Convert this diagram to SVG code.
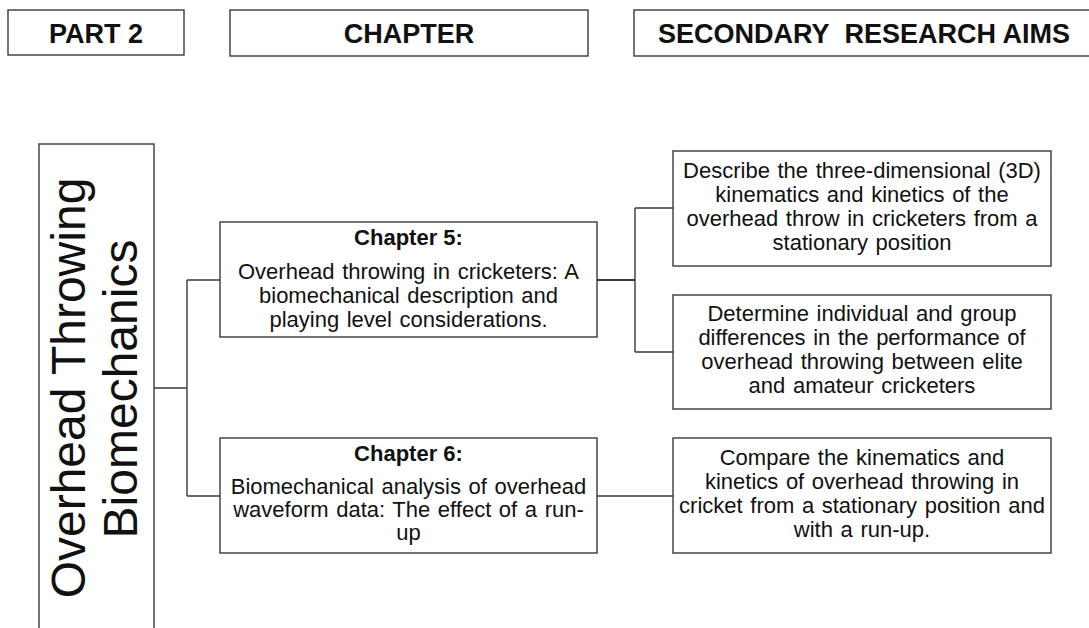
<svg xmlns="http://www.w3.org/2000/svg" width="1089" height="628" viewBox="0 0 1089 628">
  <style>
    .box { fill: #ffffff; stroke: #3a3a3a; stroke-width: 1.4; }
    .wire { fill: none; stroke: #3a3a3a; stroke-width: 1.4; }
    .wire.thick { stroke-width: 2.2; }
    .head { font-family: "Liberation Sans", Arial, sans-serif; font-weight: bold; font-size: 27px; fill: #111111; text-anchor: middle; }
    .title { font-family: "Liberation Sans", Arial, sans-serif; font-weight: bold; font-size: 22px; fill: #111111; text-anchor: middle; }
    .body { font-family: "Liberation Sans", Arial, sans-serif; font-size: 22px; word-spacing: 1.5px; fill: #111111; text-anchor: middle; }
    .side { font-family: "Liberation Sans", Arial, sans-serif; font-size: 48px; fill: #111111; text-anchor: middle; }
  </style>
  <rect x="0" y="0" width="1089" height="628" fill="#ffffff"/>

  <!-- column headings -->
  <g id="head-part">
    <rect class="box" x="8" y="10" width="176" height="45"/>
    <text class="head" x="96" y="43">PART 2</text>
  </g>
  <g id="head-chapter">
    <rect class="box" x="230" y="10" width="358" height="46"/>
    <text class="head" x="409" y="43">CHAPTER</text>
  </g>
  <g id="head-aims">
    <rect class="box" x="634" y="10" width="460" height="46"/>
    <text class="head" x="864" y="43">SECONDARY <tspan dx="8">RESEARCH AIMS</tspan></text>
  </g>

  <!-- connectors -->
  <g id="connectors">
    <path class="wire" d="M154 388 H187 M187 280 V496 M187 280 H220 M187 496 H220"/>
    <path class="wire thick" d="M597 280 H635"/>
    <path class="wire" d="M635 208 V352 M635 208 H673 M635 352 H673"/>
    <path class="wire" d="M597 496 H673"/>
  </g>

  <!-- part 2 theme -->
  <g id="part-theme">
    <rect class="box" x="39" y="144" width="115" height="500"/>
    <text class="side" transform="translate(85,388) rotate(-90)">Overhead Throwing</text>
    <text class="side" transform="translate(137,389) rotate(-90)">Biomechanics</text>
  </g>

  <!-- chapters -->
  <g id="chapter-5">
    <rect class="box" x="220" y="222" width="377" height="115"/>
    <text class="title" x="408.5" y="245">Chapter 5:</text>
    <text class="body" x="408.5" y="279">Overhead throwing in cricketers: A</text>
    <text class="body" x="408.5" y="303">biomechanical description and</text>
    <text class="body" x="408.5" y="327">playing level considerations.</text>
  </g>
  <g id="chapter-6">
    <rect class="box" x="220" y="438" width="377" height="115"/>
    <text class="title" x="408.5" y="461">Chapter 6:</text>
    <text class="body" x="408.5" y="494">Biomechanical analysis of overhead</text>
    <text class="body" x="408.5" y="517">waveform data: The effect of a run-</text>
    <text class="body" x="408.5" y="540">up</text>
  </g>

  <!-- research aims -->
  <g id="aim-1">
    <rect class="box" x="673" y="151" width="378" height="115"/>
    <text class="body" x="862" y="178">Describe the three-dimensional (3D)</text>
    <text class="body" x="862" y="202">kinematics and kinetics of the</text>
    <text class="body" x="862" y="226">overhead throw in cricketers from a</text>
    <text class="body" x="862" y="250">stationary position</text>
  </g>
  <g id="aim-2">
    <rect class="box" x="673" y="295" width="378" height="114"/>
    <text class="body" x="862" y="321">Determine individual and group</text>
    <text class="body" x="862" y="345">differences in the performance of</text>
    <text class="body" x="862" y="369">overhead throwing between elite</text>
    <text class="body" x="862" y="393">and amateur cricketers</text>
  </g>
  <g id="aim-3">
    <rect class="box" x="673" y="438" width="378" height="115"/>
    <text class="body" x="862" y="465">Compare the kinematics and</text>
    <text class="body" x="862" y="489">kinetics of overhead throwing in</text>
    <text class="body" x="862" y="513">cricket from a stationary position and</text>
    <text class="body" x="862" y="537">with a run-up.</text>
  </g>
</svg>
